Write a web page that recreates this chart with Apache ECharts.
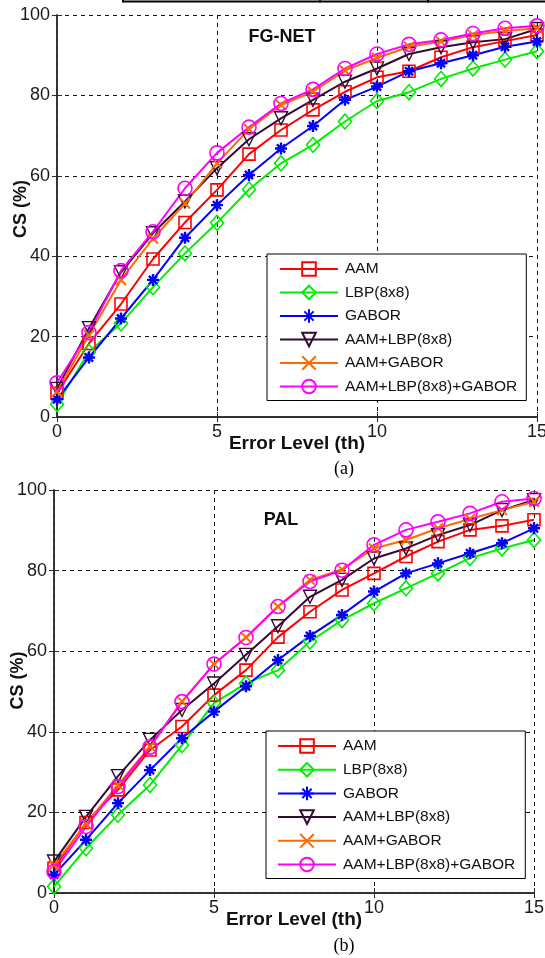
<!DOCTYPE html>
<html lang="en">
<head>
<meta charset="UTF-8">
<title>CS curves FG-NET / PAL</title>
<script src="https://cdn.jsdelivr.net/npm/echarts@6/dist/echarts.min.js"></script>
<style>
html, body { margin: 0; padding: 0; background: #fff; }
#main { width: 545px; height: 958px; }
</style>
</head>
<body>
<div id="main"></div>
<script>
// error levels on the x axis
var errorLevels = [0, 1, 2, 3, 4, 5, 6, 7, 8, 9, 10, 11, 12, 13, 14, 15];
var seriesNames = ['AAM', 'LBP(8x8)', 'GABOR', 'AAM+LBP(8x8)', 'AAM+GABOR', 'AAM+LBP(8x8)+GABOR'];

// (a) FG-NET
var fgAAM    = [5.9, 18.3, 28.1, 39.3, 48.4, 56.5, 65.4, 71.4, 76.4, 80.9, 84.5, 86.0, 89.5, 92.0, 93.5, 95.0];
var fgLBP    = [3.2, 16.2, 23.3, 32.3, 40.7, 48.3, 56.6, 63.1, 67.7, 73.5, 78.6, 80.8, 84.1, 86.7, 88.9, 91.0];
var fgGABOR  = [4.4, 14.8, 24.5, 34.1, 44.6, 52.7, 60.2, 66.8, 72.4, 78.9, 82.2, 86.0, 88.0, 90.0, 92.1, 93.4];
var fgAamLbp = [7.0, 22.1, 36.0, 45.7, 53.6, 61.9, 69.1, 74.3, 78.9, 83.4, 86.7, 90.3, 92.0, 93.2, 94.0, 96.5];
var fgAamGab = [6.3, 20.4, 34.1, 44.4, 53.1, 63.1, 71.6, 77.6, 80.9, 86.2, 89.3, 92.1, 93.4, 95.0, 96.0, 96.7];
var fgAll    = [8.5, 21.0, 36.4, 46.1, 56.9, 65.7, 72.1, 78.0, 81.5, 86.7, 90.3, 92.7, 93.8, 95.4, 96.7, 97.3];

// (b) PAL
var palAAM    = [6.1, 17.5, 25.6, 35.5, 41.3, 49.1, 55.3, 63.5, 69.8, 75.2, 79.3, 83.5, 87.2, 90.1, 91.1, 92.6];
var palLBP    = [1.6, 11.1, 19.4, 26.8, 36.7, 47.1, 52.0, 55.3, 62.4, 67.7, 71.9, 75.6, 79.3, 83.1, 85.5, 87.6];
var palGABOR  = [4.5, 13.2, 22.3, 30.5, 38.4, 45.0, 51.3, 57.8, 63.8, 69.0, 74.8, 79.3, 81.8, 84.3, 86.8, 90.5];
var palAamLbp = [7.8, 18.9, 29.0, 38.0, 45.4, 52.0, 59.1, 66.2, 73.5, 77.7, 83.0, 85.5, 88.8, 91.3, 95.0, 97.5];
var palAamGab = [6.9, 17.2, 26.8, 36.4, 47.5, 56.8, 63.4, 71.1, 77.7, 80.3, 85.5, 87.6, 90.5, 92.8, 95.0, 97.1];
var palAll    = [5.3, 16.5, 26.4, 36.2, 47.5, 56.8, 63.4, 71.1, 77.3, 80.1, 86.4, 90.1, 92.1, 94.2, 97.1, 97.9];

var STAR = 'path://M5,0L5,10M0,5L10,5M1.6,1.6L8.4,8.4M8.4,1.6L1.6,8.4';
var CROSS = 'path://M0,0L10,10M10,0L0,10';
var looks = [
  { color: '#ff0000', symbol: 'rect', size: 12, bw: 1.6 },
  { color: '#00ee00', symbol: 'diamond', size: [13, 15], bw: 1.6 },
  { color: '#0000ff', symbol: STAR, size: 12, bw: 2.4 },
  { color: '#330a33', symbol: 'triangle', size: 13, rot: 180, bw: 1.4 },
  { color: '#ff6a00', symbol: CROSS, size: 10, bw: 2 },
  { color: '#ff00ff', symbol: 'circle', size: 14, bw: 1.6 }
];

var font = 'Liberation Sans';

function buildSeries(axisIdx, sets) {
  return sets.map(function (vals, k) {
    var lk = looks[k];
    return {
      name: seriesNames[k],
      type: 'line',
      xAxisIndex: axisIdx,
      yAxisIndex: axisIdx,
      data: errorLevels.map(function (x, i) { return [x, vals[i]]; }),
      symbol: lk.symbol,
      symbolSize: lk.size,
      symbolRotate: lk.rot || 0,
      showAllSymbol: true,
      lineStyle: { color: lk.color, width: 2 },
      itemStyle: { color: 'rgba(255,255,255,0)', borderColor: lk.color, borderWidth: lk.bw },
      emphasis: { disabled: true }
    };
  });
}

function xAxes(grid) {
  return [{
    type: 'value', gridIndex: grid, min: 0, max: 15, interval: 5, position: 'bottom',
    name: 'Error Level (th)', nameLocation: 'middle', nameGap: 17, nameMoveOverlap: false,
    nameTextStyle: { fontFamily: font, fontSize: 19, fontWeight: 'bold', color: '#111' },
    axisLine: { lineStyle: { color: '#2a2a2a', width: 1.5 } },
    axisTick: { inside: true, length: 5, lineStyle: { color: '#2a2a2a' } },
    axisLabel: { margin: 6, fontFamily: font, fontSize: 18, color: '#1a1a1a' },
    splitLine: { show: true, lineStyle: { color: '#111', type: [4, 4], width: 1 } }
  }, {
    type: 'value', gridIndex: grid, min: 0, max: 15, interval: 5, position: 'top',
    axisLine: { lineStyle: { color: '#2a2a2a', width: 1.5 } },
    axisTick: { inside: true, length: 5, lineStyle: { color: '#2a2a2a' } },
    axisLabel: { show: false }, splitLine: { show: false }
  }];
}

function yAxes(grid, shift) {
  return [{
    type: 'value', gridIndex: grid, min: 0, max: 100, interval: 20, position: 'left',
    name: 'CS (%)', nameLocation: 'middle', nameGap: 27, nameMoveOverlap: false,
    nameTextStyle: { fontFamily: font, fontSize: 18, fontWeight: 'bold', color: '#111', padding: [0, 0, 0, shift] },
    axisLine: { lineStyle: { color: '#2a2a2a', width: 1.5 } },
    axisTick: { inside: true, length: 5, lineStyle: { color: '#2a2a2a' } },
    axisLabel: { margin: 7, fontFamily: font, fontSize: 18, color: '#1a1a1a' },
    splitLine: { show: true, lineStyle: { color: '#111', type: [4, 4], width: 1 } }
  }, {
    type: 'value', gridIndex: grid, min: 0, max: 100, interval: 20, position: 'right',
    axisLine: { lineStyle: { color: '#2a2a2a', width: 1.5 } },
    axisTick: { inside: true, length: 5, lineStyle: { color: '#2a2a2a' } },
    axisLabel: { show: false }, splitLine: { show: false }
  }];
}

function legendAt(left, top, pad, gap) {
  return {
    orient: 'vertical', left: left, top: top, padding: pad,
    itemWidth: 58, itemHeight: 17, itemGap: gap,
    borderColor: '#000', borderWidth: 1, backgroundColor: '#fff',
    selectedMode: false, data: seriesNames,
    textStyle: { fontFamily: font, fontSize: 15.5, color: '#111', padding: [0, 0, 0, 2] }
  };
}

var myChart = echarts.init(document.getElementById('main'));
var option = {
  animation: false,
  backgroundColor: '#fff',
  grid: [
    { left: 57, top: 15, width: 480, height: 402, outerBoundsMode: 'none', containLabel: false },
    { left: 54, top: 490, width: 480, height: 403, outerBoundsMode: 'none', containLabel: false }
  ],
  xAxis: xAxes(0).concat(xAxes(1)),
  yAxis: yAxes(0, 14).concat(yAxes(1, 22)),
  legend: [
    legendAt(267, 254, [7, 9, 6, 12], 7.5),
    legendAt(266, 731, [7, 10, 6, 11], 7.7)
  ],
  graphic: [
    { type: 'line', shape: { x1: 123, y1: 1.5, x2: 545, y2: 1.5 }, style: { stroke: '#000', lineWidth: 2 } },
    { type: 'line', shape: { x1: 123, y1: 0, x2: 123, y2: 2.5 }, style: { stroke: '#000', lineWidth: 2 } },
    { type: 'line', shape: { x1: 320, y1: 0, x2: 320, y2: 2.5 }, style: { stroke: '#000', lineWidth: 2 } },
    { type: 'line', shape: { x1: 428, y1: 0, x2: 428, y2: 2.5 }, style: { stroke: '#000', lineWidth: 2 } },
    { type: 'text', x: 282, y: 37, style: { text: 'FG-NET', fontFamily: font, fontSize: 18, fontWeight: 'bold', fill: '#111', align: 'center', verticalAlign: 'middle' } },
    { type: 'text', x: 281, y: 520, style: { text: 'PAL', fontFamily: font, fontSize: 18, fontWeight: 'bold', fill: '#111', align: 'center', verticalAlign: 'middle' } },
    { type: 'text', x: 344, y: 469, style: { text: '(a)', fontFamily: 'Liberation Serif', fontSize: 18, fill: '#000', align: 'center', verticalAlign: 'middle' } },
    { type: 'text', x: 344, y: 946, style: { text: '(b)', fontFamily: 'Liberation Serif', fontSize: 18, fill: '#000', align: 'center', verticalAlign: 'middle' } }
  ],
  series: buildSeries(0, [fgAAM, fgLBP, fgGABOR, fgAamLbp, fgAamGab, fgAll])
    .concat(buildSeries(2, [palAAM, palLBP, palGABOR, palAamLbp, palAamGab, palAll]))
};
myChart.setOption(option);
</script>
</body>
</html>
